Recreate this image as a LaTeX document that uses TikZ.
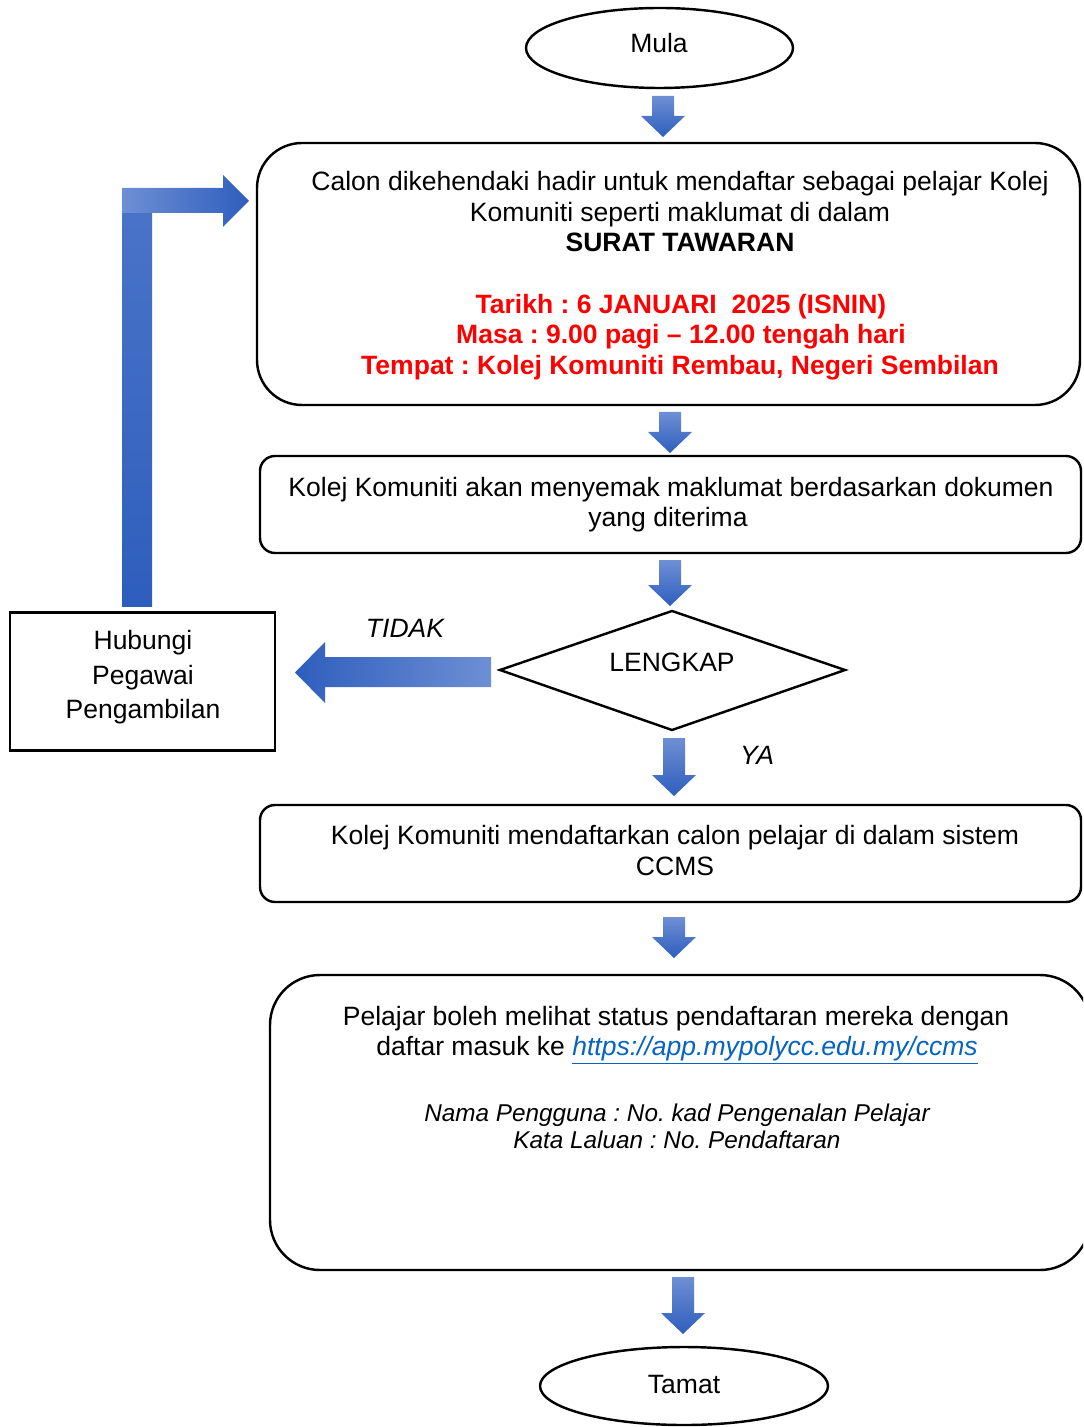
\documentclass[tikz,border=0pt]{standalone}
\usepackage{fontspec}
\setmainfont{Liberation Sans}
\usetikzlibrary{shapes.geometric}
\definecolor{arrlight}{HTML}{6E8FD4}
\definecolor{arrmid}{HTML}{4A74C8}
\definecolor{arrdark}{HTML}{2E5EBD}
\definecolor{linkblue}{HTML}{0563C1}
\definecolor{redtxt}{HTML}{FF0000}
\def\pxu{0.4525pt}
\frenchspacing
\newcommand\dnarrow[3]{%
  \shade[top color=arrlight,bottom color=arrdark]
    ({#1-11},#2) -- ({#1+11},#2) -- ({#1+11},{#3-21}) -- ({#1+22},{#3-21})
    -- (#1,#3) -- ({#1-22},{#3-21}) -- ({#1-11},{#3-21}) -- cycle;}
\begin{document}
\frenchspacing
\begin{tikzpicture}[x=0.4525pt,y=-0.4525pt,
  box/.style={draw,line width=1.1pt,inner sep=0pt},
  txt/.style={inner sep=0pt,anchor=base,font=\fontsize{12}{14}\selectfont},
  redt/.style={txt,text=redtxt,font=\fontsize{12}{14}\selectfont\bfseries},
  itt/.style={inner sep=0pt,anchor=base,font=\fontsize{11}{13}\selectfont\itshape}]
\useasboundingbox (0,0) rectangle (1083,1427);
\clip (0,0) rectangle (1083,1427);

% start / end
\node[box,ellipse,minimum width=267*\pxu,minimum height=80*\pxu] (mula) at (659.5,48) {};
\node[txt] (mulat) at (659,53) {Mula};
\node[box,ellipse,minimum width=288*\pxu,minimum height=78*\pxu] (tamat) at (684,1386) {};
\node[txt] (tamatt) at (684,1393) {Tamat};

% box 1
\node[box,rounded corners=45*\pxu,minimum width=823*\pxu,minimum height=262*\pxu] (b1) at (668.5,274) {};
\node[txt] (b1a) at (680,191) {Calon dikehendaki hadir untuk mendaftar sebagai pelajar Kolej};
\node[txt] (b1b) at (680,222) {Komuniti seperti maklumat di dalam};
\node[txt,font=\fontsize{12}{14}\selectfont\bfseries] (b1c) at (680,252) {SURAT TAWARAN};
\node[redt] (b1d) at (681,314) {Tarikh : 6 JANUARI\ \ 2025 (ISNIN)};
\node[redt] (b1e) at (681,344) {Masa : 9.00 pagi – 12.00 tengah hari};
\node[redt] (b1f) at (680,375) {Tempat : Kolej Komuniti Rembau, Negeri Sembilan};

% box 2
\node[box,rounded corners=15*\pxu,minimum width=821*\pxu,minimum height=97*\pxu] (b2) at (670.5,504.5) {};
\node[txt] (b2a) at (671,496) {Kolej Komuniti akan menyemak maklumat berdasarkan dokumen};
\node[txt] (b2b) at (668,526) {yang diterima};

% decision
\node[inner sep=0pt] (dia) at (672,670) {};
\draw[line width=1.1pt] (500,670) -- (672,611) -- (845,670) -- (672,730) -- cycle;
\node[txt] (diat) at (672,671) {LENGKAP};
\node[txt,font=\fontsize{12}{14}\selectfont\itshape] (tidak) at (405,637) {TIDAK};
\node[txt,font=\fontsize{12}{14}\selectfont\itshape] (ya) at (757,764) {YA};

% hubungi
\node[draw,line width=1.1pt,inner sep=0pt,minimum width=265*\pxu,minimum height=138*\pxu] (hub) at (142.5,681.5) {};
\node[txt] (huba) at (143,649) {Hubungi};
\node[txt] (hubb) at (143,684) {Pegawai};
\node[txt] (hubc) at (143,718) {Pengambilan};

% box 3
\node[box,rounded corners=15*\pxu,minimum width=821*\pxu,minimum height=97*\pxu] (b3) at (670.5,853.5) {};
\node[txt] (b3a) at (675,844) {Kolej Komuniti mendaftarkan calon pelajar di dalam sistem};
\node[txt] (b3b) at (675,875) {CCMS};

% box 4
\node[box,rounded corners=50*\pxu,minimum width=820*\pxu,minimum height=295*\pxu] (b4) at (680,1122.5) {};
\node[txt] (b4a) at (676,1025) {Pelajar boleh melihat status pendaftaran mereka dengan};
\node[txt] (b4b) at (677,1055) {daftar masuk ke \textcolor{linkblue}{\underline{\textit{https://app.mypolycc.edu.my/ccms}}}};
\node[itt] (b4c) at (677,1121) {Nama Pengguna : No. kad Pengenalan Pelajar};
\node[itt] (b4d) at (677,1148) {Kata Laluan : No. Pendaftaran};

% block arrows
\dnarrow{663}{96}{137}
\dnarrow{670}{412}{453}
\dnarrow{670}{560}{606}
\dnarrow{674}{738}{796}
\dnarrow{674}{917}{958}
\dnarrow{683}{1277}{1334}

% TIDAK arrow
\shade[left color=arrdark,right color=arrlight]
  (491,657) -- (491,687) -- (325,687) -- (325,703) -- (295,672.5) -- (325,642) -- (325,657) -- cycle;

% loop-back arrow
\shade[top color=arrmid,bottom color=arrdark] (122,200) rectangle (152,606);
\shade[left color=arrlight,right color=arrdark]
  (122,188) -- (223,188) -- (223,175) -- (249,201) -- (223,227) -- (223,213) -- (122,213) -- cycle;
\end{tikzpicture}
\end{document}
